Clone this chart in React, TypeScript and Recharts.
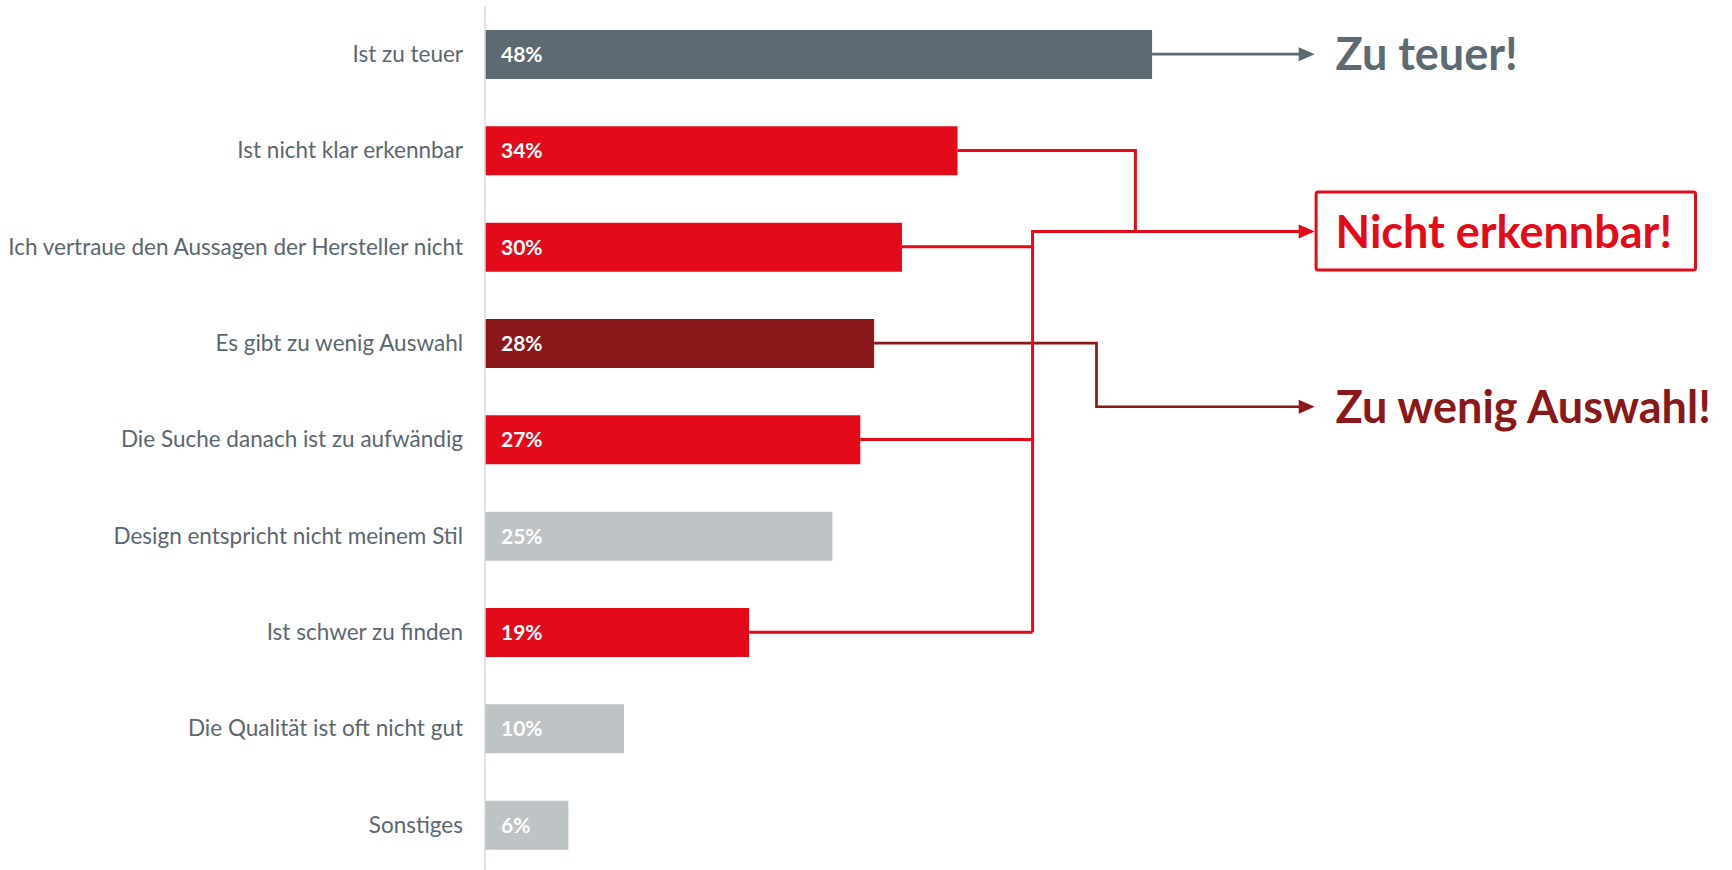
import { BarChart, Bar, XAxis, YAxis, Cell, LabelList, Customized } from 'recharts'

const reasons = [
  'Ist zu teuer',
  'Ist nicht klar erkennbar',
  'Ich vertraue den Aussagen der Hersteller nicht',
  'Es gibt zu wenig Auswahl',
  'Die Suche danach ist zu aufwändig',
  'Design entspricht nicht meinem Stil',
  'Ist schwer zu finden',
  'Die Qualität ist oft nicht gut',
  'Sonstiges',
]
const shares = [48, 34, 30, 28, 27, 25, 19, 10, 6]
const groups = ['teuer', 'erkennbar', 'erkennbar', 'auswahl', 'erkennbar', 'rest', 'erkennbar', 'rest', 'rest']
const callouts = { teuer: 'Zu teuer!', erkennbar: 'Nicht erkennbar!', auswahl: 'Zu wenig Auswahl!' }

const data = reasons.map((reason, i) => ({ reason, share: shares[i], group: groups[i] }))

const COLORS: Record<string, string> = {
  teuer: '#5e6a72',
  erkennbar: '#e30a1a',
  auswahl: '#8a1719',
  rest: '#bec3c5',
}

const W = 1732
const H = 870
const AXIS_W = 485
const MARGIN = { top: 6, right: 24, bottom: -3, left: 0 }
const X_MAX = 88
const FONT = 'Lato, "Open Sans", sans-serif'

// plot area, same numbers the chart is configured with
const PLOT_LEFT = MARGIN.left + AXIS_W
const PLOT_W = W - PLOT_LEFT - MARGIN.right
const PLOT_TOP = MARGIN.top
const ROW_H = (H - MARGIN.top - MARGIN.bottom) / reasons.length
const sx = (v: number) => PLOT_LEFT + (v / X_MAX) * PLOT_W
const sy = (row: number) => PLOT_TOP + (row + 0.5) * ROW_H

// callout layout in data units (x in %, y in rows)
const ARROW_TIP = 59.7
const TEXT_X = 61.2
const TITLE_SIZE = 45

function Path({ pts, color, width = 3 }: { pts: [number, number][]; color: string; width?: number }) {
  const d = pts.map(([x, y], i) => `${i ? 'L' : 'M'}${sx(x)},${sy(y)}`).join(' ')
  return <path d={d} fill="none" stroke={color} strokeWidth={width} strokeLinejoin="miter" />
}

function Head({ row, color }: { row: number; color: string }) {
  const x = sx(ARROW_TIP)
  const y = sy(row)
  return <path d={`M${x},${y} L${x - 16},${y - 7} L${x - 16},${y + 7} Z`} fill={color} />
}

function Title({ row, color, text }: { row: number; color: string; text: string }) {
  return (
    <text
      x={sx(TEXT_X)}
      y={sy(row) + TITLE_SIZE * 0.36}
      fill={color}
      fontFamily={FONT}
      fontWeight={700}
      fontSize={TITLE_SIZE}
    >
      {text}
    </text>
  )
}

function Callouts() {
  const red = COLORS.erkennbar
  const dark = COLORS.auswahl
  const grey = COLORS.teuer
  const redRow = 1.84
  const darkRow = 3.66
  const redJoin = 39.4
  const topJoin = 46.8
  const darkJoin = 44.0
  return (
    <g>
      {/* zu teuer */}
      <Path pts={[[shares[0], 0], [ARROW_TIP - 1, 0]]} color={grey} width={2.7} />
      <Head row={0} color={grey} />
      <Title row={0} color={grey} text={callouts.teuer} />

      {/* zu wenig auswahl */}
      <Path pts={[[shares[3], 3], [darkJoin, 3], [darkJoin, darkRow], [ARROW_TIP - 1, darkRow]]} color={dark} width={2.7} />
      <Head row={darkRow} color={dark} />
      <Title row={darkRow} color={dark} text={callouts.auswahl} />

      {/* nicht erkennbar */}
      <Path pts={[[shares[1], 1], [topJoin, 1], [topJoin, redRow]]} color={red} />
      {[2, 4, 6].map((i) => (
        <Path key={i} pts={[[shares[i], i], [redJoin, i]]} color={red} />
      ))}
      <Path pts={[[redJoin, 6], [redJoin, redRow], [ARROW_TIP - 1, redRow]]} color={red} />
      <Head row={redRow} color={red} />
      <rect
        x={sx(59.8)}
        y={sy(1.43)}
        width={sx(87.1) - sx(59.8)}
        height={sy(2.24) - sy(1.43)}
        fill="#fff"
        stroke={red}
        strokeWidth={3}
        rx={2}
      />
      <Title row={redRow} color={red} text={callouts.erkennbar} />
    </g>
  )
}

export default function App() {
  return (
    <div style={{ position: 'absolute', left: 0, top: 0, width: W, height: H, background: '#fff', overflow: 'hidden' }}>
      <BarChart width={W} height={H} data={data} layout="vertical" margin={MARGIN}>
        <XAxis type="number" domain={[0, X_MAX]} allowDataOverflow hide />
        <YAxis
          type="category"
          dataKey="reason"
          width={AXIS_W}
          interval={0}
          tickLine={false}
          tickMargin={16}
          axisLine={{ stroke: '#d9d9d9', strokeWidth: 1.5 }}
          tick={{ fontSize: 22.5, fill: '#5b6770', fontFamily: FONT }}
        />
        <Bar dataKey="share" barSize={49} isAnimationActive={false}>
          {data.map((d, i) => (
            <Cell key={`cell-${i}`} fill={COLORS[d.group]} />
          ))}
          <LabelList
            dataKey="share"
            position="insideLeft"
            offset={16}
            formatter={(v: number) => `${v}%`}
            fill="#ffffff"
            fontFamily={FONT}
            fontWeight={700}
            fontSize={21}
          />
        </Bar>
        <Customized component={Callouts} />
      </BarChart>
    </div>
  )
}
